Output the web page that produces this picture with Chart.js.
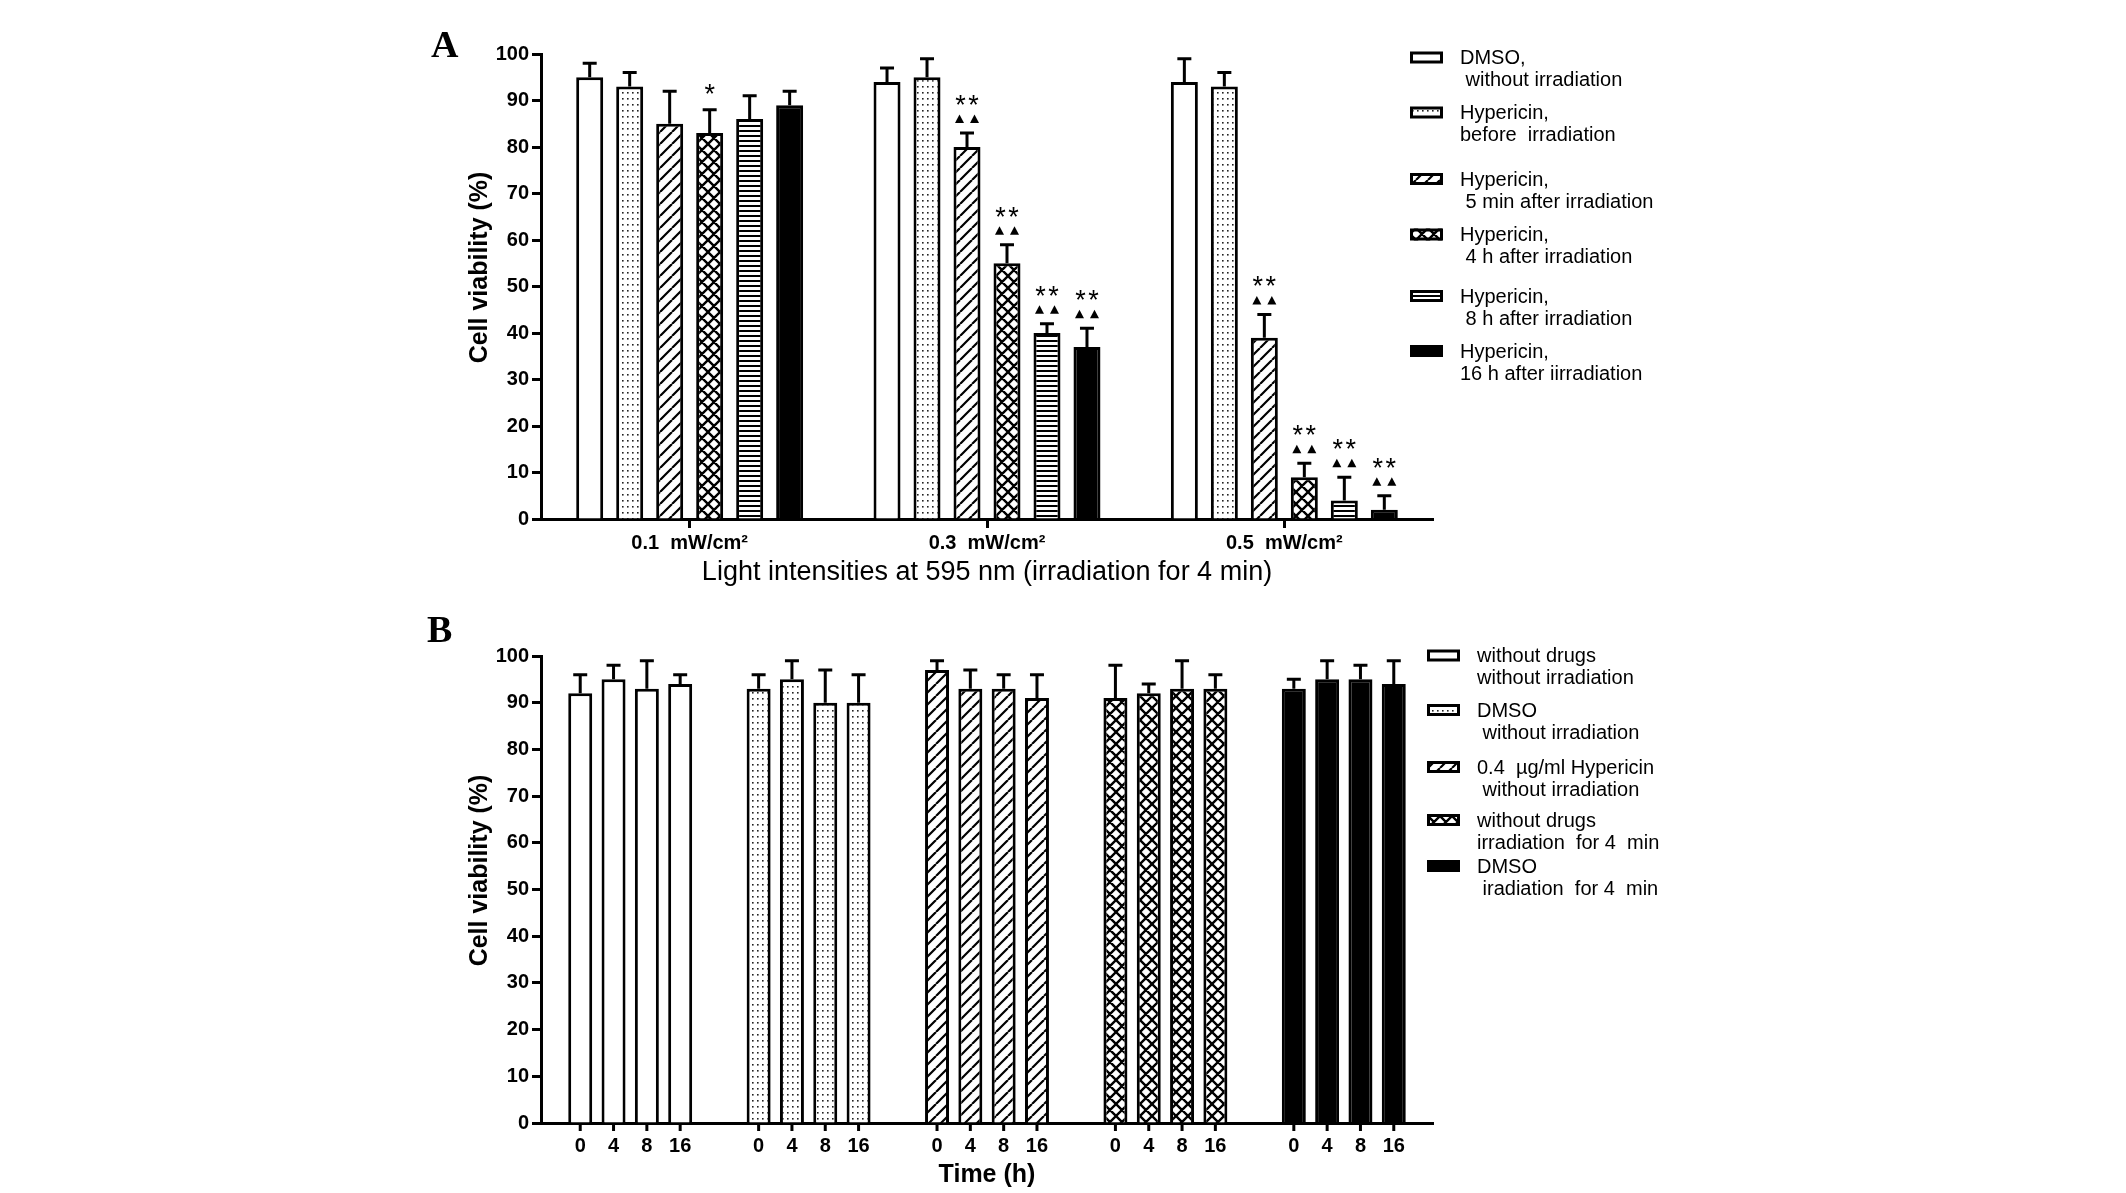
<!DOCTYPE html>
<html>
<head>
<meta charset="utf-8">
<script src="https://cdn.jsdelivr.net/npm/chart.js@4.4.1/dist/chart.umd.min.js"></script>
<style>
  html, body { margin: 0; padding: 0; background: #fff; }
  body { width: 2126px; height: 1193px; position: relative; overflow: hidden; }
  canvas { position: absolute; left: 0; }
  #chartA { top: 0; }
  #chartB { top: 600px; }
  .panel { position: absolute; font: bold 38px "Liberation Serif", "Times New Roman", serif; line-height: 38px; color: #000; }
</style>
</head>
<body>
<canvas id="chartA" width="2126" height="600"></canvas>
<canvas id="chartB" width="2126" height="593"></canvas>
<div class="panel" style="left:431px; top:25px;">A</div>
<div class="panel" style="left:427px; top:610px;">B</div>
<script>
// ---- Panel A data: viability at three light intensities ----
const intensityLabels = ['0.1  mW/cm²', '0.3  mW/cm²', '0.5  mW/cm²'];
const legendA = [
  ['DMSO,', ' without irradiation'],
  ['Hypericin,', 'before  irradiation'],
  ['Hypericin,', ' 5 min after irradiation'],
  ['Hypericin,', ' 4 h after irradiation'],
  ['Hypericin,', ' 8 h after irradiation'],
  ['Hypericin,', '16 h after iirradiation']
];
const dmsoA = [95, 94, 94];
const beforeA = [93, 95, 93];
const min5A = [85, 80, 39];
const h4A = [83, 55, 9];
const h8A = [86, 40, 4];
const h16A = [89, 37, 2];
const dmsoErrA = [3, 3, 5];
const beforeErrA = [3, 4, 3];
const min5ErrA = [7, 3, 5];
const h4ErrA = [5, 4, 3];
const h8ErrA = [5, 2, 5];
const h16ErrA = [3, 4, 3];
const starsA = [
  ['', '', ''],
  ['', '', ''],
  ['', '**', '**'],
  ['*', '**', '**'],
  ['', '**', '**'],
  ['', '**', '**']
];
const trianglesA = [
  [false, false, false],
  [false, false, false],
  [false, true, true],
  [false, true, true],
  [false, true, true],
  [false, true, true]
];

// ---- Panel B data: controls over time ----
const legendB = [
  ['without drugs', 'without irradiation'],
  ['DMSO', ' without irradiation'],
  ['0.4  µg/ml Hypericin', ' without irradiation'],
  ['without drugs', 'irradiation  for 4  min'],
  ['DMSO', ' iradiation  for 4  min']
];
const timeLabels = ['0', '4', '8', '16'];
const time0B = [92, 93, 97, 91, 93];
const time4B = [95, 95, 93, 92, 95];
const time8B = [93, 90, 93, 93, 95];
const time16B = [94, 90, 91, 93, 94];
const time0ErrB = [4, 3, 2, 7, 2];
const time4ErrB = [3, 4, 4, 2, 4];
const time8ErrB = [6, 7, 3, 6, 3];
const time16ErrB = [2, 6, 5, 3, 5];

const FONT = '"Liberation Sans", Arial, Helvetica, sans-serif';
Chart.defaults.font.family = FONT;
Chart.defaults.color = '#000';

// hatch patterns
const baseCtx = document.getElementById('chartA').getContext('2d');
function tile(w, h, draw) {
  const c = document.createElement('canvas');
  c.width = w; c.height = h;
  const g = c.getContext('2d');
  g.fillStyle = '#fff';
  g.fillRect(0, 0, w, h);
  g.fillStyle = '#000';
  g.strokeStyle = '#000';
  draw(g, w, h);
  return baseCtx.createPattern(c, 'repeat');
}
const dots = tile(5, 6, g => { g.fillStyle = '#222'; g.fillRect(2, 2, 1.6, 1.6); });
const hatch = tile(12, 12, (g, w, h) => {
  g.lineWidth = 2.2;
  g.beginPath();
  for (const k of [-w, 0, w]) { g.moveTo(k, h); g.lineTo(k + w, 0); }
  g.stroke();
});
const cross = tile(12, 12, (g, w, h) => {
  g.lineWidth = 2.4;
  g.beginPath();
  for (const k of [-w, 0, w]) {
    g.moveTo(k, h); g.lineTo(k + w, 0);
    g.moveTo(k, 0); g.lineTo(k + w, h);
  }
  g.stroke();
});
const stripes = tile(4, 5, g => g.fillRect(0, 0, 4, 2));
const fillsA = ['#fff', dots, hatch, cross, stripes, '#000'];
const fillsB = ['#fff', dots, hatch, cross, '#000'];

// up-only error bars
const errorBars = {
  id: 'errorBars',
  afterDatasetsDraw(chart) {
    const ctx = chart.ctx, y = chart.scales.y;
    ctx.save();
    ctx.strokeStyle = '#000';
    ctx.lineWidth = 3;
    chart.data.datasets.forEach((ds, di) => {
      chart.getDatasetMeta(di).data.forEach((bar, i) => {
        const top = y.getPixelForValue(ds.data[i] + ds.errors[i]);
        ctx.beginPath();
        ctx.moveTo(bar.x, bar.y);
        ctx.lineTo(bar.x, top);
        ctx.moveTo(bar.x - 7, top);
        ctx.lineTo(bar.x + 7, top);
        ctx.stroke();
      });
    });
    ctx.restore();
  }
};

// significance marks for panel A
const sigMarks = {
  id: 'sigMarks',
  afterDatasetsDraw(chart) {
    const ctx = chart.ctx, y = chart.scales.y;
    ctx.save();
    ctx.fillStyle = '#000';
    ctx.font = '27px ' + FONT;
    ctx.textAlign = 'center';
    ctx.textBaseline = 'alphabetic';
    chart.data.datasets.forEach((ds, di) => {
      chart.getDatasetMeta(di).data.forEach((bar, i) => {
        const top = y.getPixelForValue(ds.data[i] + ds.errors[i]);
        const tri = trianglesA[di][i];
        if (tri) {
          const cy = top - 14;
          for (const dx of [-7.5, 7.5]) {
            ctx.beginPath();
            ctx.moveTo(bar.x + dx, cy - 4.5);
            ctx.lineTo(bar.x + dx + 4.5, cy + 4);
            ctx.lineTo(bar.x + dx - 4.5, cy + 4);
            ctx.closePath();
            ctx.fill();
          }
        }
        const s = starsA[di][i];
        if (s) {
          const cy = tri ? top - 34 : top - 22;
          const n = s.length;
          for (let k = 0; k < n; k++) {
            ctx.fillText('*', bar.x + (k - (n - 1) / 2) * 13, cy + 15);
          }
        }
      });
    });
    ctx.restore();
  }
};

// per-bar time ticks for panel B
const timeTicks = {
  id: 'timeTicks',
  afterDraw(chart) {
    const ctx = chart.ctx, bottom = chart.chartArea.bottom;
    ctx.save();
    ctx.strokeStyle = '#000';
    ctx.fillStyle = '#000';
    ctx.lineWidth = 3;
    ctx.font = 'bold 20px ' + FONT;
    ctx.textAlign = 'center';
    ctx.textBaseline = 'middle';
    chart.data.datasets.forEach((ds, di) => {
      chart.getDatasetMeta(di).data.forEach(bar => {
        ctx.beginPath();
        ctx.moveTo(bar.x, bottom);
        ctx.lineTo(bar.x, bottom + 8);
        ctx.stroke();
        ctx.fillText(timeLabels[di], bar.x, bottom + 23);
      });
    });
    ctx.restore();
  }
};

// y title sits a little above the middle of the axis in the original
const yTitle = {
  id: 'yTitle',
  afterDraw(chart) {
    const ctx = chart.ctx, s = chart.scales.y, area = chart.chartArea;
    ctx.save();
    ctx.translate(s.left + 19, (area.top + area.bottom) / 2 - 19);
    ctx.rotate(-Math.PI / 2);
    ctx.fillStyle = '#000';
    ctx.font = 'bold 25px ' + FONT;
    ctx.textAlign = 'center';
    ctx.textBaseline = 'middle';
    ctx.fillText('Cell viability (%)', 0, 0);
    ctx.restore();
  }
};

function sideLegend(items, fills, rows, boxX, textX) {
  return {
    id: 'sideLegend',
    afterDraw(chart) {
      const ctx = chart.ctx;
      ctx.save();
      ctx.font = '20px ' + FONT;
      ctx.textBaseline = 'middle';
      ctx.textAlign = 'left';
      items.forEach((lines, k) => {
        const cy = rows[k];
        ctx.fillStyle = fills[k];
        ctx.fillRect(boxX, cy - 6, 33, 12);
        ctx.lineWidth = 3;
        ctx.strokeStyle = '#000';
        ctx.strokeRect(boxX + 1.5, cy - 4.5, 30, 9);
        ctx.fillStyle = '#000';
        lines.forEach((t, j) => ctx.fillText(t, textX, cy + 1 + j * 22));
      });
      ctx.restore();
    }
  };
}

const yAxis = {
  min: 0,
  max: 100,
  ticks: { stepSize: 10, color: '#000', font: { weight: 'bold', size: 20 }, padding: 3 },
  grid: { drawOnChartArea: false, drawTicks: true, tickLength: 9, tickWidth: 3, tickColor: '#000' },
  border: { display: true, color: '#000', width: 3 },
  title: { display: false },
  afterFit: s => { s.width = 80; }
};

const barStyle = { borderColor: '#000', borderWidth: 3, borderSkipped: 'start' };

new Chart(document.getElementById('chartA'), {
  type: 'bar',
  data: {
    labels: intensityLabels,
    datasets: [
      { data: dmsoA, errors: dmsoErrA },
      { data: beforeA, errors: beforeErrA },
      { data: min5A, errors: min5ErrA },
      { data: h4A, errors: h4ErrA },
      { data: h8A, errors: h8ErrA },
      { data: h16A, errors: h16ErrA }
    ].map((d, i) => Object.assign(d, barStyle, {
      label: legendA[i].join(' '),
      backgroundColor: fillsA[i],
      categoryPercentage: 0.807,
      barPercentage: 0.675
    }))
  },
  options: {
    responsive: false,
    devicePixelRatio: 1,
    animation: false,
    events: [],
    layout: { padding: { left: 461, right: 693, top: 54, bottom: 7 } },
    scales: {
      x: {
        ticks: { color: '#000', font: { weight: 'bold', size: 20 }, padding: 3, maxRotation: 0 },
        grid: { offset: false, drawOnChartArea: false, drawTicks: true, tickLength: 9, tickWidth: 3, tickColor: '#000' },
        border: { display: true, color: '#000', width: 3 },
        title: { display: true, text: 'Light intensities at 595 nm (irradiation for 4 min)', color: '#000', font: { size: 27 }, padding: { top: 4, bottom: 4 } },
        afterFit: s => { s.height = 74; }
      },
      y: yAxis
    },
    plugins: { legend: { display: false }, tooltip: { enabled: false } }
  },
  plugins: [errorBars, sigMarks, yTitle, sideLegend(legendA, fillsA, [57.5, 112.5, 179, 234.5, 296, 351], 1410, 1460)]
});

new Chart(document.getElementById('chartB'), {
  type: 'bar',
  data: {
    labels: legendB.map(l => l.join(' ')),
    datasets: [
      { data: time0B, errors: time0ErrB },
      { data: time4B, errors: time4ErrB },
      { data: time8B, errors: time8ErrB },
      { data: time16B, errors: time16ErrB }
    ].map((d, i) => Object.assign(d, barStyle, {
      label: timeLabels[i] + ' h',
      backgroundColor: fillsB,
      categoryPercentage: 0.747,
      barPercentage: 0.72
    }))
  },
  options: {
    responsive: false,
    devicePixelRatio: 1,
    animation: false,
    events: [],
    layout: { padding: { left: 461, right: 693, top: 56, bottom: 3 } },
    scales: {
      x: {
        ticks: { display: false },
        grid: { display: false },
        border: { display: true, color: '#000', width: 3 },
        title: { display: true, text: 'Time (h)', color: '#000', font: { weight: 'bold', size: 25 }, padding: { top: 0, bottom: 0 } },
        afterFit: s => { s.height = 67; }
      },
      y: Object.assign({}, yAxis)
    },
    plugins: { legend: { display: false }, tooltip: { enabled: false } }
  },
  plugins: [errorBars, timeTicks, yTitle, sideLegend(legendB, fillsB, [55.5, 110, 167, 220, 266], 1427, 1477)]
});
</script>
</body>
</html>
